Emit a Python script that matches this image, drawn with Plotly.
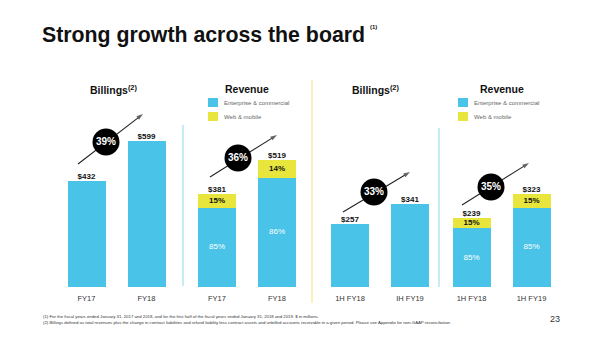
import plotly.graph_objects as go

# ---- data ($ in millions) ----
fy_periods = ["FY17", "FY18"]
h1_periods = ["1H FY18", "IH FY19"]
h1_rev_periods = ["1H FY18", "1H FY19"]

fy_billings = [432, 599]
fy_revenue = [381, 519]
fy_ent_pct = [85, 86]
fy_web_pct = [15, 14]

h1_billings = [257, 341]
h1_revenue = [239, 323]
h1_ent_pct = [85, 85]
h1_web_pct = [15, 15]

BLUE = "#49C3E7"
YELLOW = "#E8E53C"
FONT = "Liberation Sans, Arial, sans-serif"

W, H = 600, 337


def px(x):
    return x / W


def py(y):
    return 1 - y / H


fig = go.Figure()

# panel layout: (x-domain in px, y range max)
panels = [
    ((56.5, 176.5), 765),
    ((187.0, 307.0), 765),
    ((320.0, 440.0), 765),
    ((441.5, 561.5), 648),
]
y_dom = [py(287), py(100)]

panel_data = [
    ("billings", fy_periods, fy_billings, None, None),
    ("revenue", fy_periods, fy_revenue, fy_ent_pct, fy_web_pct),
    ("billings", h1_periods, h1_billings, None, None),
    ("revenue", h1_rev_periods, h1_revenue, h1_ent_pct, h1_web_pct),
]

bar_w = 0.62
for i, ((x0, x1), ymax) in enumerate(panels):
    n = "" if i == 0 else str(i + 1)
    xa, ya = "x" + n, "y" + n
    kind, cats, totals, ent, web = panel_data[i]
    xs = [0, 1]
    if kind == "billings":
        fig.add_trace(go.Bar(
            x=xs, y=totals, xaxis=xa, yaxis=ya, width=bar_w,
            marker=dict(color=BLUE, line=dict(width=0)),
            showlegend=False, hoverinfo="skip"))
    else:
        ent_vals = [t * p / 100 for t, p in zip(totals, ent)]
        web_vals = [t * p / 100 for t, p in zip(totals, web)]
        fig.add_trace(go.Bar(
            x=xs, y=ent_vals, xaxis=xa, yaxis=ya, width=bar_w,
            marker=dict(color=BLUE, line=dict(width=0)),
            showlegend=False, hoverinfo="skip"))
        fig.add_trace(go.Bar(
            x=xs, y=web_vals, base=ent_vals, xaxis=xa, yaxis=ya, width=bar_w,
            marker=dict(color=YELLOW, line=dict(width=0)),
            showlegend=False, hoverinfo="skip"))
        # segment share labels
        fig.add_trace(go.Scatter(
            x=xs, y=[e / 2 for e in ent_vals], xaxis=xa, yaxis=ya, mode="text",
            text=[f"{p}%" for p in ent],
            textfont=dict(family=FONT, size=8, color="white"),
            showlegend=False, hoverinfo="skip"))
        fig.add_trace(go.Scatter(
            x=xs, y=[e + w / 2 for e, w in zip(ent_vals, web_vals)],
            xaxis=xa, yaxis=ya, mode="text",
            text=[f"<b>{p}%</b>" for p in web],
            textfont=dict(family=FONT, size=8, color="#111111"),
            showlegend=False, hoverinfo="skip"))
    # total labels above bars
    fig.add_trace(go.Scatter(
        x=xs, y=totals, xaxis=xa, yaxis=ya, mode="text",
        text=[f"<b>${v}</b>" for v in totals], textposition="top center",
        textfont=dict(family=FONT, size=8, color="#111111"),
        cliponaxis=False, showlegend=False, hoverinfo="skip"))
    axx = dict(domain=[px(x0), px(x1)], range=[-0.5, 1.5], tickvals=xs,
               ticktext=cats, showgrid=False, zeroline=False, showline=False,
               ticks="", ticklabelstandoff=5,
               tickfont=dict(family=FONT, size=7.5, color="#333333"),
               fixedrange=True)
    axy = dict(domain=y_dom, range=[0, ymax], visible=False, fixedrange=True)
    if i > 0:
        axy["anchor"] = "x" + n
        axx["anchor"] = "y" + n
    fig.update_layout({("xaxis" + n): axx, ("yaxis" + n): axy})

# overlay axes in page pixels for the growth badges
fig.update_layout(
    xaxis5=dict(domain=[0, 1], range=[0, W], visible=False, anchor="y5", fixedrange=True),
    yaxis5=dict(domain=[0, 1], range=[H, 0], visible=False, anchor="x5", fixedrange=True),
)

growth = [
    (fy_billings, (78, 164), (143, 114), (106, 142)),
    (fy_revenue, (210, 177), (277, 135), (238, 158)),
    (h1_billings, (343, 212), (410, 172), (374, 192)),
    (h1_revenue, (462, 205), (529, 163), (491, 187)),
]
for vals, (ax0, ay0), (ax1, ay1), (cx, cy) in growth:
    pct = round((vals[1] / vals[0] - 1) * 100)
    fig.add_trace(go.Scatter(
        x=[ax0, ax1], y=[ay0, ay1], xaxis="x5", yaxis="y5",
        mode="lines+markers", line=dict(color="#222222", width=1.1),
        marker=dict(symbol="arrow", angleref="previous", size=[0, 7],
                    color="#222222", line=dict(width=0)),
        showlegend=False, hoverinfo="skip"))
    fig.add_trace(go.Scatter(
        x=[cx], y=[cy], xaxis="x5", yaxis="y5", mode="markers+text",
        marker=dict(symbol="circle", size=27, color="#000000", line=dict(width=0)),
        text=[f"<b>{pct}%</b>"], textposition="middle center",
        textfont=dict(family=FONT, size=10, color="white"),
        showlegend=False, hoverinfo="skip"))

shapes = []
annotations = []

# separators
shapes.append(dict(type="line", xref="paper", yref="paper", x0=px(183), x1=px(183),
                   y0=py(125), y1=py(286), line=dict(color="#8FD8EE", width=1)))
shapes.append(dict(type="line", xref="paper", yref="paper", x0=px(312), x1=px(312),
                   y0=py(80), y1=py(303), line=dict(color="#F1F0A6", width=1.5)))
shapes.append(dict(type="line", xref="paper", yref="paper", x0=px(439), x1=px(439),
                   y0=py(128), y1=py(287), line=dict(color="#8FD8EE", width=1)))

# panel headers
for x, txt in [(113, "Billings<sup>(2)</sup>"), (247, "Revenue"),
               (375, "Billings<sup>(2)</sup>"), (502, "Revenue")]:
    annotations.append(dict(xref="paper", yref="paper", x=px(x), y=py(89),
                            xanchor="center", yanchor="middle",
                            text=f"<b>{txt}</b>", showarrow=False,
                            font=dict(family=FONT, size=10.5, color="#111111")))

# legends
for lx in (208, 458):
    for yy, col, lab in [(102.5, BLUE, "Enterprise & commercial"),
                         (116.5, YELLOW, "Web & mobile")]:
        shapes.append(dict(type="rect", xref="paper", yref="paper",
                           x0=px(lx), x1=px(lx + 10), y0=py(yy + 4.5), y1=py(yy - 4.5),
                           fillcolor=col, line=dict(width=0)))
        annotations.append(dict(xref="paper", yref="paper", x=px(lx + 14), y=py(yy),
                                xanchor="left", yanchor="middle", text=lab,
                                showarrow=False,
                                font=dict(family=FONT, size=6, color="#666666")))

# title
annotations.append(dict(xref="paper", yref="paper", x=px(40), y=py(35),
                        xanchor="left", yanchor="middle",
                        text="<b>Strong growth across the board</b>",
                        showarrow=False,
                        font=dict(family=FONT, size=21.3, color="#111111")))
annotations.append(dict(xref="paper", yref="paper", x=px(368), y=py(27),
                        xanchor="left", yanchor="middle",
                        text="<b>(1)</b>", showarrow=False,
                        font=dict(family=FONT, size=6, color="#111111")))

# footnotes
annotations.append(dict(xref="paper", yref="paper", x=px(41), y=py(319),
                        xanchor="left", yanchor="middle",
                        align="left", showarrow=False,
                        text="(1) For the fiscal years ended January 31, 2017 and 2018, and for the first half of the fiscal years ended January 31, 2018 and 2019. $ in millions.<br>"
                             "(2) Billings defined as total revenues plus the change in contract liabilities and refund liability less contract assets and unbilled accounts receivable in a given period. Please see Appendix for non-GAAP reconciliation.",
                        font=dict(family=FONT, size=4.3, color="#333333")))
annotations.append(dict(xref="paper", yref="paper", x=px(555), y=py(319),
                        xanchor="center", yanchor="middle",
                        text="23", showarrow=False,
                        font=dict(family=FONT, size=9, color="#333333")))

fig.update_layout(
    width=W, height=H, margin=dict(l=0, r=0, t=0, b=0, autoexpand=False),
    paper_bgcolor="white", plot_bgcolor="rgba(0,0,0,0)",
    barmode="overlay", bargap=0,
    shapes=shapes, annotations=annotations,
)

fig.write_html("out.html")
